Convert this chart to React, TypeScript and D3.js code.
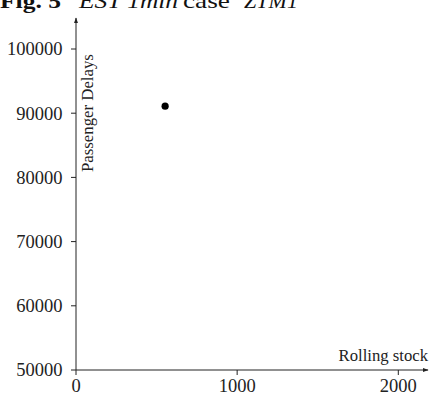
import * as d3 from "d3";

const xTicks = [0, 1000, 2000];
const yTicks = [50000, 60000, 70000, 80000, 90000, 100000];
const pointX = [553];
const pointY = [91100];

const font = "'Liberation Serif', 'DejaVu Serif', serif";

// title pieces: text, style, weight, start x, width
const titleParts: [string, string, string, number, number][] = [
  ["Fig. 5", "normal", "bold", 0, 61],
  ["EST 1min", "italic", "normal", 79, 99],
  ["case", "normal", "normal", 183, 47],
  ["ZTM1", "italic", "normal", 244, 54],
];

const App = () => {
  const width = 431;
  const height = 396;

  const x = d3.scaleLinear().domain([0, 2000]).range([76, 398.3]);
  const y = d3.scaleLinear().domain([50000, 100000]).range([370, 49]);

  const x0 = x(0);
  const y0 = y(50000);

  return (
    <svg
      width={width}
      height={height}
      style={{ position: "absolute", left: 0, top: 0, background: "#fff" }}
      fontFamily={font}
    >
      <defs>
        <marker id="arr" viewBox="0 0 10 10" refX="9" refY="5" markerWidth="6" markerHeight="6" orient="auto">
          <path d="M0,1.5 L10,5 L0,8.5 z" fill="#222" />
        </marker>
      </defs>

      {/* title */}
      {titleParts.map(([t, st, wt, tx, w]) => (
        <text
          key={t}
          x={tx}
          y={7.5}
          fontSize={21}
          fontStyle={st}
          fontWeight={wt}
          textLength={w}
          lengthAdjust="spacingAndGlyphs"
          fill="#111"
        >
          {t}
        </text>
      ))}

      {/* axes */}
      <line x1={x0} y1={y0} x2={x0} y2={18} stroke="#222" strokeWidth={1} markerEnd="url(#arr)" />
      <line x1={x0} y1={y0} x2={428} y2={y0} stroke="#222" strokeWidth={1} markerEnd="url(#arr)" />

      {yTicks.map((t) => (
        <g key={t}>
          <line x1={x0 - 5} x2={x0} y1={y(t)} y2={y(t)} stroke="#222" />
          <text x={62.5} y={y(t)} dy="0.35em" textAnchor="end" fontSize={18.5} fill="#222">
            {t}
          </text>
        </g>
      ))}

      {xTicks.map((t) => (
        <g key={t}>
          <line x1={x(t)} x2={x(t)} y1={y0} y2={y0 + 5} stroke="#222" />
          <text x={x(t)} y={392} textAnchor="middle" fontSize={18.5} fill="#222">
            {t}
          </text>
        </g>
      ))}

      <text x={428} y={361} textAnchor="end" fontSize={16.7} fill="#222">
        Rolling stock
      </text>
      <text
        transform={`translate(93,172) rotate(-90)`}
        fontSize={16.8}
        fill="#222"
      >
        Passenger Delays
      </text>

      {pointX.map((v, i) => (
        <circle key={i} cx={x(v)} cy={y(pointY[i])} r={3.6} fill="#000" />
      ))}
    </svg>
  );
};

export default App;
